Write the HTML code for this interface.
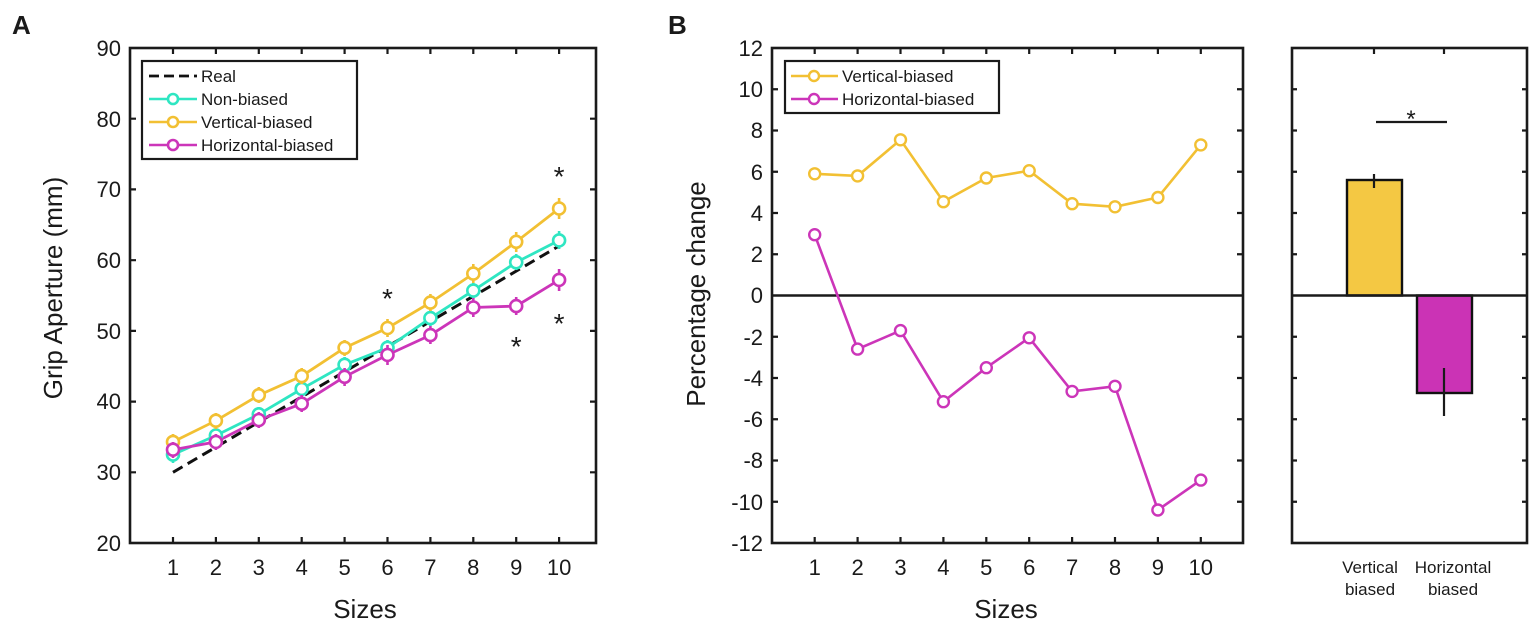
<!DOCTYPE html>
<html><head><meta charset="utf-8"><style>
html,body{margin:0;padding:0;background:#fff}
svg{display:block}
text{font-family:"Liberation Sans",Arial,sans-serif;fill:#1a1a1a}
</style></head><body>
<svg width="1535" height="628" viewBox="0 0 1535 628" xmlns="http://www.w3.org/2000/svg">
<!-- Panel A -->
<text x="12" y="34" font-size="26" font-weight="bold">A</text>
<g stroke="#1a1a1a" stroke-width="2.2">
<rect x="130" y="48" width="466" height="495" fill="none" stroke-width="2.6"/>
<path d="M173 543v-6M215.9 543v-6M258.8 543v-6M301.7 543v-6M344.6 543v-6M387.5 543v-6M430.4 543v-6M473.3 543v-6M516.2 543v-6M559.1 543v-6
M173 48v6M215.9 48v6M258.8 48v6M301.7 48v6M344.6 48v6M387.5 48v6M430.4 48v6M473.3 48v6M516.2 48v6M559.1 48v6
M130 118.7h6M130 189.4h6M130 260.2h6M130 330.9h6M130 401.6h6M130 472.3h6
M596 118.7h-6M596 189.4h-6M596 260.2h-6M596 330.9h-6M596 401.6h-6M596 472.3h-6"/>
</g>
<g font-size="22" text-anchor="end">
<text x="121" y="56">90</text><text x="121" y="127">80</text><text x="121" y="197">70</text><text x="121" y="268">60</text>
<text x="121" y="339">50</text><text x="121" y="409">40</text><text x="121" y="480">30</text><text x="121" y="551">20</text>
</g>
<g font-size="22" text-anchor="middle">
<text x="173" y="575">1</text><text x="215.9" y="575">2</text><text x="258.8" y="575">3</text><text x="301.7" y="575">4</text><text x="344.6" y="575">5</text>
<text x="387.5" y="575">6</text><text x="430.4" y="575">7</text><text x="473.3" y="575">8</text><text x="516.2" y="575">9</text><text x="559.1" y="575">10</text>
</g>
<text x="365" y="618" font-size="26" text-anchor="middle">Sizes</text>
<text transform="translate(62,288) rotate(-90)" font-size="26" text-anchor="middle">Grip Aperture (mm)</text>
<line x1="173" y1="472.3" x2="559" y2="246" stroke="#111" stroke-width="3" stroke-dasharray="11,6"/>
<g fill="none" stroke-width="2.8">
<polyline stroke="#2FE6C2" points="173,454.6 215.9,435.5 258.8,414.3 301.7,388.9 344.6,364.8 387.5,347.8 430.4,318.1 473.3,290.6 516.2,262.3 559.1,240.4"/>
<polyline stroke="#F2C033" points="173,441.9 215.9,420.7 258.8,395.2 301.7,376.1 344.6,347.8 387.5,328 430.4,302.6 473.3,273.6 516.2,241.8 559.1,208.5"/>
<polyline stroke="#CC35B9" points="173,449.7 215.9,441.9 258.8,420 301.7,403.7 344.6,376.8 387.5,354.9 430.4,335.1 473.3,307.5 516.2,306.1 559.1,279.9"/>
</g>
<g fill="#fff" stroke-width="2.6">
<g stroke="#2FE6C2">
<path d="M173 447v16M215.9 428v15M258.8 407v15M301.7 381v16M344.6 357v16M387.5 340v16M430.4 310v16M473.3 283v16M516.2 254v16M559.1 231v18"/>
<circle cx="173" cy="454.6" r="6"/><circle cx="215.9" cy="435.5" r="6"/><circle cx="258.8" cy="414.3" r="6"/><circle cx="301.7" cy="388.9" r="6"/><circle cx="344.6" cy="364.8" r="6"/><circle cx="387.5" cy="347.8" r="6"/><circle cx="430.4" cy="318.1" r="6"/><circle cx="473.3" cy="290.6" r="6"/><circle cx="516.2" cy="262.3" r="6"/><circle cx="559.1" cy="240.4" r="6"/>
</g>
<g stroke="#F2C033">
<path d="M173 434v16M215.9 413v16M258.8 387v16M301.7 368v16M344.6 340v16M387.5 319v18M430.4 294v17M473.3 264v19M516.2 232v20M559.1 198v21"/>
<circle cx="173" cy="441.9" r="6"/><circle cx="215.9" cy="420.7" r="6"/><circle cx="258.8" cy="395.2" r="6"/><circle cx="301.7" cy="376.1" r="6"/><circle cx="344.6" cy="347.8" r="6"/><circle cx="387.5" cy="328" r="6"/><circle cx="430.4" cy="302.6" r="6"/><circle cx="473.3" cy="273.6" r="6"/><circle cx="516.2" cy="241.8" r="6"/><circle cx="559.1" cy="208.5" r="6"/>
</g>
<g stroke="#CC35B9">
<path d="M173 442v16M215.9 434v16M258.8 412v16M301.7 395v17M344.6 368v18M387.5 345v20M430.4 326v18M473.3 298v19M516.2 297v18M559.1 269v22"/>
<circle cx="173" cy="449.7" r="6"/><circle cx="215.9" cy="441.9" r="6"/><circle cx="258.8" cy="420" r="6"/><circle cx="301.7" cy="403.7" r="6"/><circle cx="344.6" cy="376.8" r="6"/><circle cx="387.5" cy="354.9" r="6"/><circle cx="430.4" cy="335.1" r="6"/><circle cx="473.3" cy="307.5" r="6"/><circle cx="516.2" cy="306.1" r="6"/><circle cx="559.1" cy="279.9" r="6"/>
</g>
</g>
<g font-size="28" text-anchor="middle">
<text x="387.5" y="308">*</text><text x="516.2" y="356">*</text><text x="559.1" y="186">*</text><text x="559.1" y="333">*</text>
</g>
<rect x="142" y="61" width="215" height="98" fill="#fff" stroke="#1a1a1a" stroke-width="2.2"/>
<line x1="149" y1="76" x2="197" y2="76" stroke="#111" stroke-width="2.8" stroke-dasharray="10,5"/>
<g stroke-width="2.6" fill="#fff">
<line x1="149" y1="99" x2="197" y2="99" stroke="#2FE6C2"/><circle cx="173" cy="99" r="5" stroke="#2FE6C2"/>
<line x1="149" y1="122" x2="197" y2="122" stroke="#F2C033"/><circle cx="173" cy="122" r="5" stroke="#F2C033"/>
<line x1="149" y1="145" x2="197" y2="145" stroke="#CC35B9"/><circle cx="173" cy="145" r="5" stroke="#CC35B9"/>
</g>
<g font-size="17">
<text x="201" y="82">Real</text><text x="201" y="105">Non-biased</text><text x="201" y="128">Vertical-biased</text><text x="201" y="151">Horizontal-biased</text>
</g>

<!-- Panel B -->
<text x="668" y="34" font-size="26" font-weight="bold">B</text>
<g stroke="#1a1a1a" stroke-width="2.2">
<rect x="772" y="48" width="471" height="495" fill="none" stroke-width="2.6"/>
<line x1="772" y1="295.5" x2="1243" y2="295.5" stroke-width="2.6"/>
<path d="M814.7 543v-6M857.6 543v-6M900.5 543v-6M943.4 543v-6M986.3 543v-6M1029.2 543v-6M1072.1 543v-6M1115 543v-6M1157.9 543v-6M1200.8 543v-6
M814.7 48v6M857.6 48v6M900.5 48v6M943.4 48v6M986.3 48v6M1029.2 48v6M1072.1 48v6M1115 48v6M1157.9 48v6M1200.8 48v6
M772 89.25h6M772 130.5h6M772 171.75h6M772 213h6M772 254.25h6M772 336.75h6M772 378h6M772 419.25h6M772 460.5h6M772 501.75h6
M1243 89.25h-6M1243 130.5h-6M1243 171.75h-6M1243 213h-6M1243 254.25h-6M1243 336.75h-6M1243 378h-6M1243 419.25h-6M1243 460.5h-6M1243 501.75h-6"/>
</g>
<g font-size="22" text-anchor="end">
<text x="763" y="56">12</text><text x="763" y="97">10</text><text x="763" y="138">8</text><text x="763" y="180">6</text><text x="763" y="221">4</text>
<text x="763" y="262">2</text><text x="763" y="303">0</text><text x="763" y="345">-2</text><text x="763" y="386">-4</text><text x="763" y="427">-6</text>
<text x="763" y="468">-8</text><text x="763" y="510">-10</text><text x="763" y="551">-12</text>
</g>
<g font-size="22" text-anchor="middle">
<text x="814.7" y="575">1</text><text x="857.6" y="575">2</text><text x="900.5" y="575">3</text><text x="943.4" y="575">4</text><text x="986.3" y="575">5</text>
<text x="1029.2" y="575">6</text><text x="1072.1" y="575">7</text><text x="1115" y="575">8</text><text x="1157.9" y="575">9</text><text x="1200.8" y="575">10</text>
</g>
<text x="1006" y="618" font-size="26" text-anchor="middle">Sizes</text>
<text transform="translate(705,294) rotate(-90)" font-size="26" text-anchor="middle">Percentage change</text>
<g fill="none" stroke-width="2.6">
<polyline stroke="#F2C033" points="814.7,173.8 857.6,175.9 900.5,139.8 943.4,201.7 986.3,178 1029.2,170.7 1072.1,203.7 1115,206.8 1157.9,197.5 1200.8,144.9"/>
<polyline stroke="#CC35B9" points="814.7,234.7 857.6,349.1 900.5,330.6 943.4,401.7 986.3,367.7 1029.2,337.8 1072.1,391.4 1115,386.3 1157.9,510 1200.8,480.1"/>
</g>
<g fill="#fff" stroke-width="2.4">
<g stroke="#F2C033">
<circle cx="814.7" cy="173.8" r="5.5"/><circle cx="857.6" cy="175.9" r="5.5"/><circle cx="900.5" cy="139.8" r="5.5"/><circle cx="943.4" cy="201.7" r="5.5"/><circle cx="986.3" cy="178" r="5.5"/><circle cx="1029.2" cy="170.7" r="5.5"/><circle cx="1072.1" cy="203.7" r="5.5"/><circle cx="1115" cy="206.8" r="5.5"/><circle cx="1157.9" cy="197.5" r="5.5"/><circle cx="1200.8" cy="144.9" r="5.5"/>
</g>
<g stroke="#CC35B9">
<circle cx="814.7" cy="234.7" r="5.5"/><circle cx="857.6" cy="349.1" r="5.5"/><circle cx="900.5" cy="330.6" r="5.5"/><circle cx="943.4" cy="401.7" r="5.5"/><circle cx="986.3" cy="367.7" r="5.5"/><circle cx="1029.2" cy="337.8" r="5.5"/><circle cx="1072.1" cy="391.4" r="5.5"/><circle cx="1115" cy="386.3" r="5.5"/><circle cx="1157.9" cy="510" r="5.5"/><circle cx="1200.8" cy="480.1" r="5.5"/>
</g>
</g>
<rect x="785" y="61" width="214" height="52" fill="#fff" stroke="#1a1a1a" stroke-width="2.2"/>
<g stroke-width="2.4" fill="#fff">
<line x1="791" y1="76" x2="838" y2="76" stroke="#F2C033"/><circle cx="814" cy="76" r="5" stroke="#F2C033"/>
<line x1="791" y1="99" x2="838" y2="99" stroke="#CC35B9"/><circle cx="814" cy="99" r="5" stroke="#CC35B9"/>
</g>
<g font-size="17">
<text x="842" y="82">Vertical-biased</text><text x="842" y="105">Horizontal-biased</text>
</g>

<!-- Panel C -->
<rect x="1347" y="180" width="55" height="115.5" fill="#F4C843" stroke="#111" stroke-width="2.4"/>
<rect x="1417" y="295.5" width="55" height="97.5" fill="#CB33B5" stroke="#111" stroke-width="2.4"/>
<g stroke="#1a1a1a" stroke-width="2.2">
<rect x="1292" y="48" width="235" height="495" fill="none" stroke-width="2.6"/>
<line x1="1292" y1="295.5" x2="1527" y2="295.5" stroke-width="2.6"/>
<path d="M1374 48v6M1444 48v6
M1292 89.25h5M1292 130.5h5M1292 171.75h5M1292 213h5M1292 254.25h5M1292 336.75h5M1292 378h5M1292 419.25h5M1292 460.5h5M1292 501.75h5
M1527 89.25h-5M1527 130.5h-5M1527 171.75h-5M1527 213h-5M1527 254.25h-5M1527 336.75h-5M1527 378h-5M1527 419.25h-5M1527 460.5h-5M1527 501.75h-5"/>
<path d="M1374 174v14M1444 368v48M1376 122h71"/>
</g>
<text x="1411" y="127" font-size="24" text-anchor="middle">*</text>
<g font-size="17" text-anchor="middle">
<text x="1370" y="573">Vertical</text><text x="1370" y="595">biased</text>
<text x="1453" y="573">Horizontal</text><text x="1453" y="595">biased</text>
</g>
</svg>
</body></html>
